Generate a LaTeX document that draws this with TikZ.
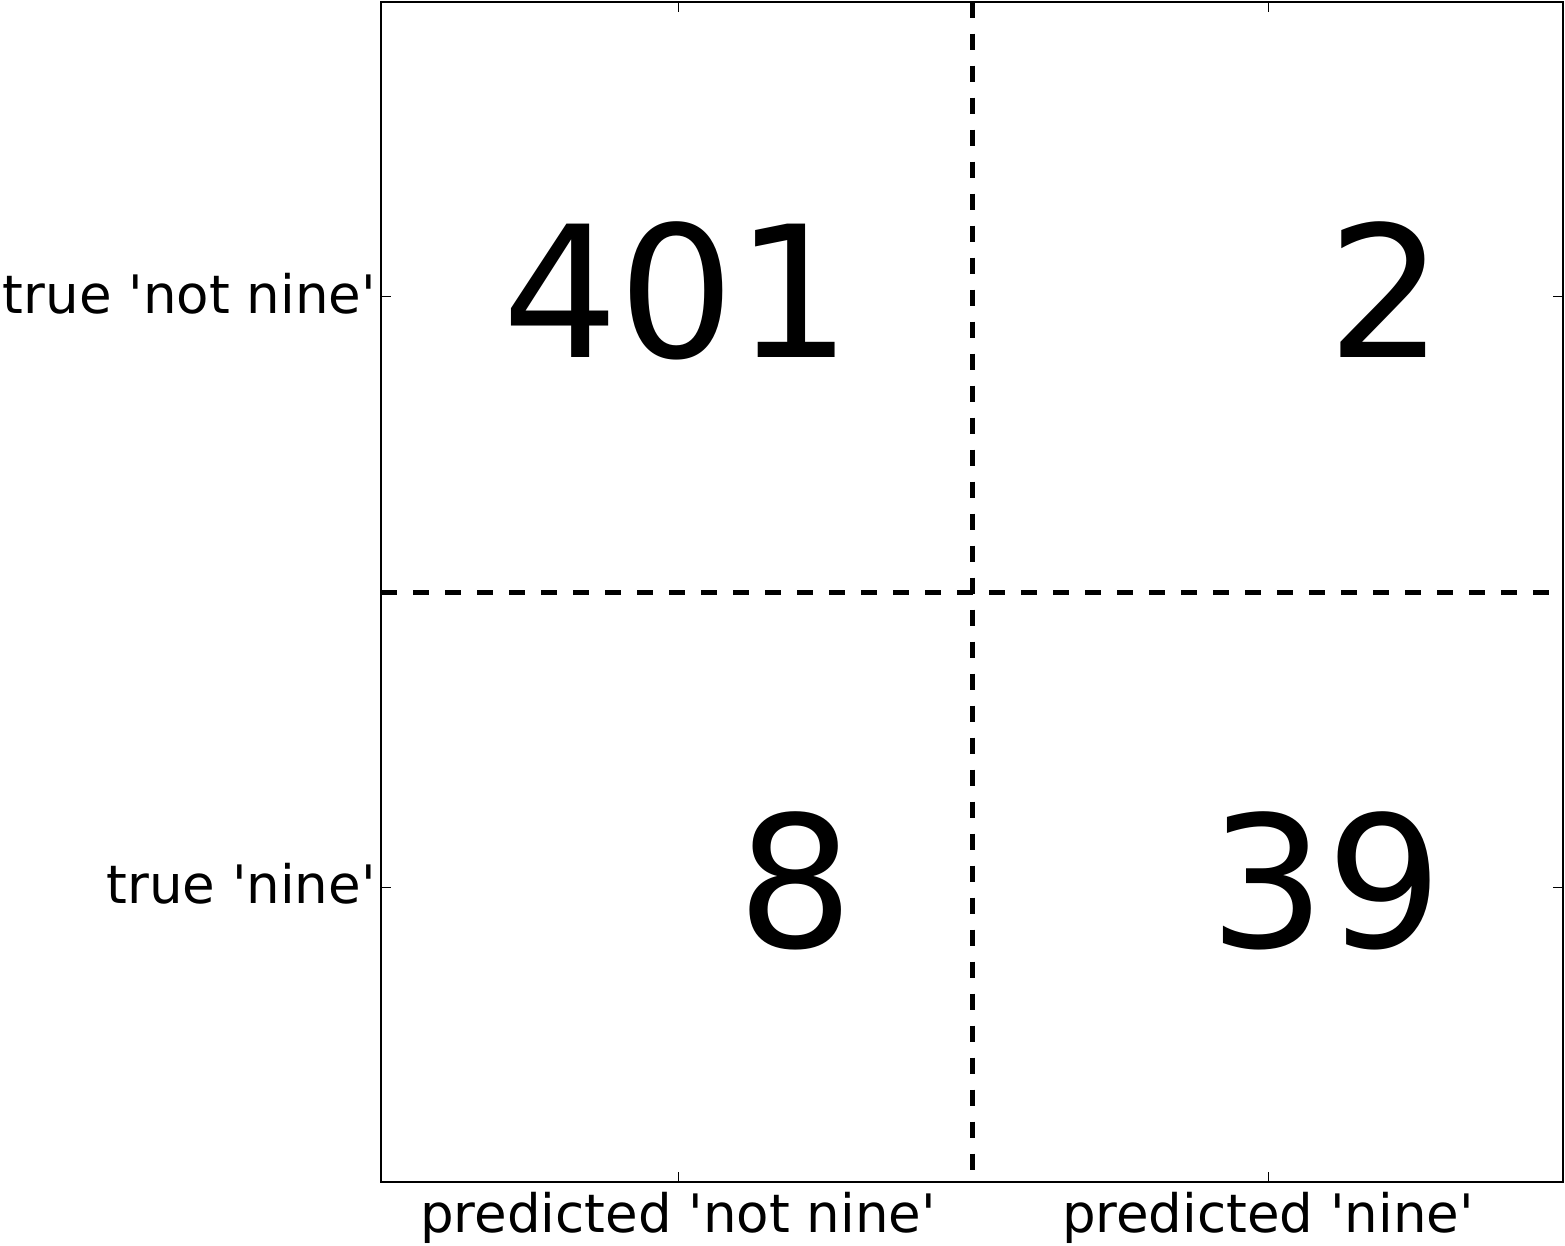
\documentclass[tikz,border=0pt]{standalone}
\usepackage{fontspec}
\setmainfont{DejaVu Sans}
\newcommand{\qs}{\textquotesingle}
\begin{document}
\begin{tikzpicture}[x=1pt,y=-1pt,
  lbl/.style={inner sep=0pt,font=\fontsize{53}{61}\selectfont},
  num/.style={inner sep=0pt,font=\fontsize{183}{200}\selectfont},
  grid/.style={line width=5pt,dash pattern=on 16pt off 16pt},
  tick/.style={line width=1pt}]
\useasboundingbox (0,0) rectangle (1565,1245);
\coordinate (tl) at (381,1.5);
\coordinate (br) at (1563,1182);
\draw[line width=2pt] (tl) rectangle (br);
% ticks
\foreach \x in {678,1268}{
  \draw[tick] (\x,1.5) -- (\x,11.5);
  \draw[tick] (\x,1182) -- (\x,1172);
}
\foreach \y in {296,887}{
  \draw[tick] (381,\y) -- (391,\y);
  \draw[tick] (1563,\y) -- (1553,\y);
}
% dashed grid
\coordinate (vt) at (972,1.5);
\coordinate (vb) at (972,1182);
\coordinate (hl) at (381,592);
\coordinate (hr) at (1563,592);
\draw[grid] (vt) -- (vb);
\draw[grid] (hl) -- (hr);
% labels
\node[lbl,anchor=base east] (y1) at (376,313) {true \qs not nine\qs};
\node[lbl,anchor=base east] (y2) at (376,903) {true \qs nine\qs};
\node[lbl,anchor=base] (x1) at (678,1232) {predicted \qs not nine\qs};
\node[lbl,anchor=base] (x2) at (1268,1232) {predicted \qs nine\qs};
% numbers
\node[num,anchor=base east] (n11) at (852,357) {401};
\node[num,anchor=base east] (n12) at (1444,357) {2};
\node[num,anchor=base east] (n21) at (854,947) {8};
\node[num,anchor=base east] (n22) at (1443,947) {39};
\end{tikzpicture}
\end{document}
